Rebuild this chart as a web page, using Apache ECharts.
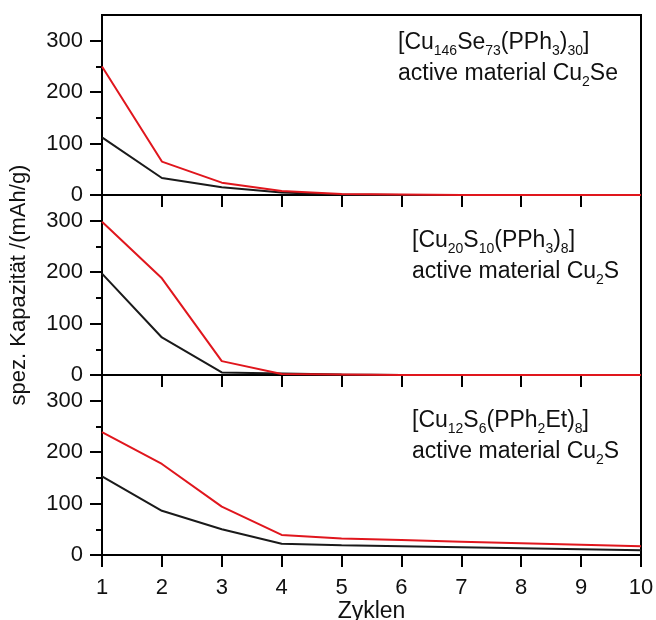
<!DOCTYPE html>
<html>
<head>
<meta charset="utf-8">
<script src="https://cdn.jsdelivr.net/npm/echarts@6/dist/echarts.min.js"></script>
<style>html,body{margin:0;padding:0;background:#fff;}#c{width:656px;height:620px;}</style>
</head>
<body>
<div id="c"></div>
<script>
const cycles = [1, 2, 3, 4, 5, 6, 7, 8, 9, 10];
const yMajor = [0, 100, 200, 300];
const yMinor = [50, 150, 250];
// Panel 1: [Cu146Se73(PPh3)30]
const p1Red   = [250, 65, 24, 8, 2, 1, 0, 0, 0, 0];
const p1Black = [112, 33, 15, 5, 1, 0, 0, 0, 0, 0];
// Panel 2: [Cu20S10(PPh3)8]
const p2Red   = [298, 188, 27, 2, 1, 0, 0, 0, 0, 0];
const p2Black = [197, 73, 5, 3, 1, 0, 0, 0, 0, 0];
// Panel 3: [Cu12S6(PPh2Et)8]
const p3Red   = [239, 177, 94, 39, 32, 29, 26, 23, 20, 17];
const p3Black = [153, 86, 50, 22, 19, 17, 15, 13, 11, 9];

const FONT = '"Liberation Sans", Arial, sans-serif';
const chart = echarts.init(document.getElementById('c'));

const tops = [15, 195, 375];
const grids = tops.map(t => ({
  left: 102, right: 15, top: t, height: 180, outerBoundsMode: 'none',
  show: true, borderColor: '#000', borderWidth: 2, backgroundColor: 'transparent'
}));

// main x axes: line + ticks
const xAxes = [0, 1, 2].map(i => ({
  type: 'value', gridIndex: i, min: 1, max: 10, interval: 1,
  axisLine: { show: true, onZero: false, lineStyle: { color: '#000', width: 2 } },
  axisTick: { show: true, inside: false, length: 12, lineStyle: { color: '#000', width: 2 } },
  axisLabel: { show: false },
  splitLine: { show: false }
}));
// label-only x axis for the bottom panel
xAxes.push({
  type: 'value', gridIndex: 2, min: 1, max: 10, interval: 1, position: 'bottom',
  axisLine: { show: false, onZero: false },
  axisTick: { show: false },
  axisLabel: { show: true, color: '#111', fontSize: 22, fontFamily: FONT, margin: 22 },
  splitLine: { show: false },
  name: 'Zyklen', nameLocation: 'middle', nameGap: 43,
  nameTextStyle: { color: '#111', fontSize: 23, fontFamily: FONT }
});

const yAxes = [];
[0, 1, 2].forEach(i => {
  yAxes.push({
    type: 'value', gridIndex: i, min: 0, max: 350, position: 'left',
    axisLine: { show: true, onZero: false, lineStyle: { color: '#000', width: 2 } },
    axisTick: { show: true, length: 12, customValues: yMajor, lineStyle: { color: '#000', width: 2 } },
    axisLabel: { color: '#111', fontSize: 22, fontFamily: FONT, margin: 19, customValues: yMajor },
    splitLine: { show: false },
    name: i === 1 ? 'spez. Kapazität /(mAh/g)' : '',
    nameLocation: 'middle', nameGap: 72, nameRotate: 90,
    nameTextStyle: { color: '#111', fontSize: 22, fontFamily: FONT }
  });
});
[0, 1, 2].forEach(i => {
  yAxes.push({
    type: 'value', gridIndex: i, min: 0, max: 350, position: 'left',
    axisLine: { show: false, onZero: false },
    axisTick: { show: true, length: 6, customValues: yMinor, lineStyle: { color: '#000', width: 2 } },
    axisLabel: { show: false },
    splitLine: { show: false }
  });
});

const RED = '#e0161d', BLACK = '#1a1a1a';
function mk(data, g, color) {
  return {
    type: 'line', xAxisIndex: g, yAxisIndex: g,
    data: cycles.map((c, k) => [c, data[k]]),
    showSymbol: false, symbol: 'none',
    lineStyle: { color: color, width: 2 },
    animation: false, z: color === RED ? 3 : 2
  };
}
const series = [
  mk(p1Black, 0, BLACK), mk(p1Red, 0, RED),
  mk(p2Black, 1, BLACK), mk(p2Red, 1, RED),
  mk(p3Black, 2, BLACK), mk(p3Red, 2, RED)
];

const rich = {
  n: { fontSize: 23, lineHeight: 31, fontFamily: FONT, color: '#111', verticalAlign: 'middle' },
  s: { fontSize: 14, lineHeight: 14, fontFamily: FONT, color: '#111', verticalAlign: 'bottom' }
};
function note(x, y, txt) {
  return { type: 'text', left: x, top: y, z: 10,
    style: { text: txt, rich: rich, fontFamily: FONT, fill: '#111' } };
}

chart.setOption({
  animation: false,
  backgroundColor: '#fff',
  textStyle: { fontFamily: FONT },
  grid: grids,
  xAxis: xAxes,
  yAxis: yAxes,
  series: series,
  graphic: [
    note(398, 31, '{n|[Cu}{s|146}{n|Se}{s|73}{n|(PPh}{s|3}{n|)}{s|30}{n|]}\n{n|active material Cu}{s|2}{n|Se}'),
    note(412, 229, '{n|[Cu}{s|20}{n|S}{s|10}{n|(PPh}{s|3}{n|)}{s|8}{n|]}\n{n|active material Cu}{s|2}{n|S}'),
    note(412, 409, '{n|[Cu}{s|12}{n|S}{s|6}{n|(PPh}{s|2}{n|Et)}{s|8}{n|]}\n{n|active material Cu}{s|2}{n|S}')
  ]
});
</script>
</body>
</html>
